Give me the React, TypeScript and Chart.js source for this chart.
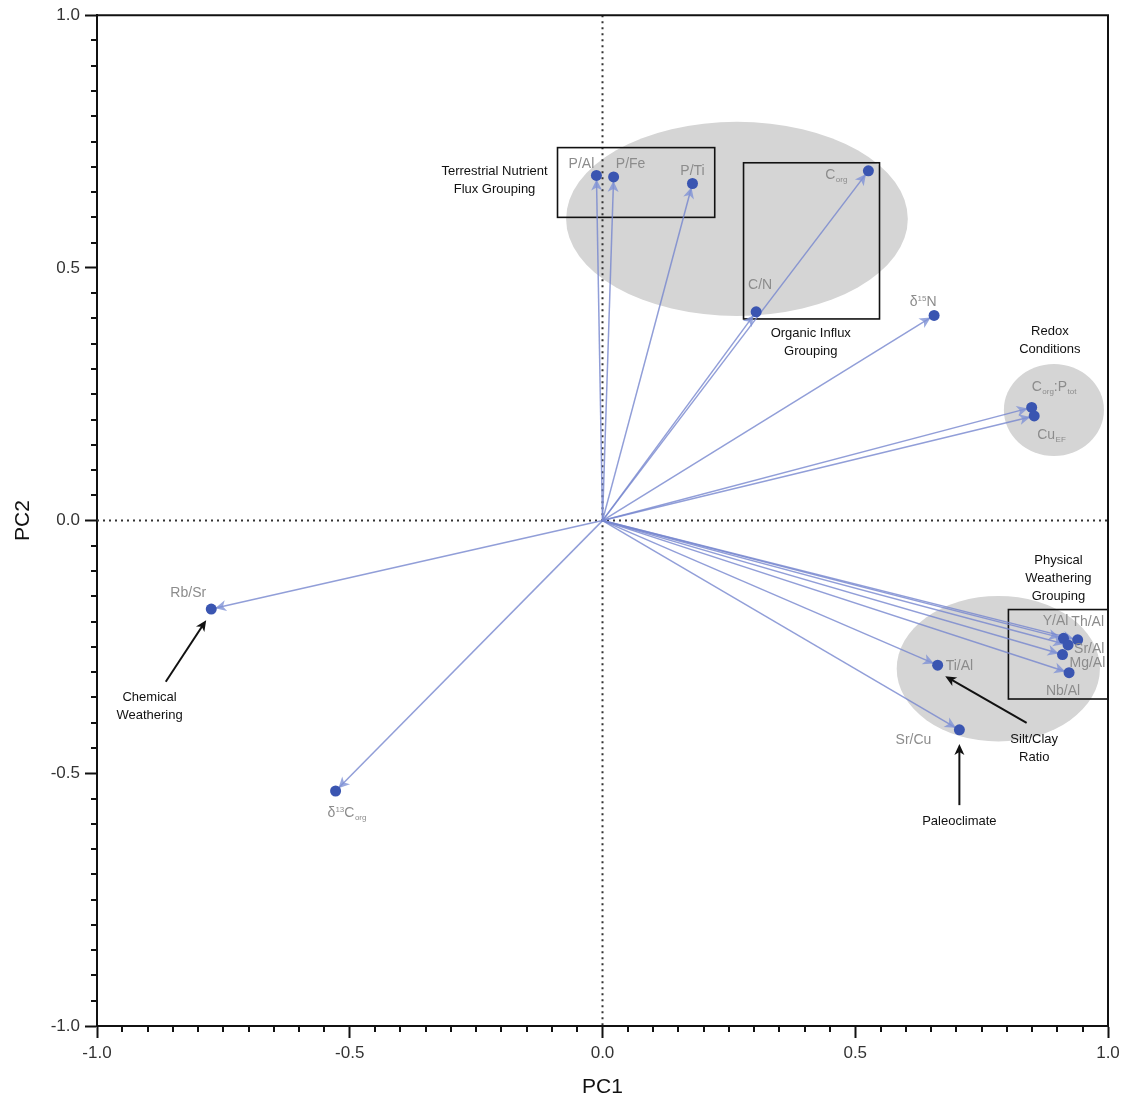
import React, { useEffect, useRef } from 'react';
import { Chart, registerables } from 'chart.js';

Chart.register(...registerables);

// PCA loadings of the geochemical proxies
const variables = [
  'P/Al', 'P/Fe', 'P/Ti', 'Corg', 'C/N', 'δ15N', 'Corg:Ptot', 'CuEF', 'Rb/Sr',
  'δ13Corg', 'Ti/Al', 'Sr/Cu', 'Y/Al', 'Th/Al', 'Sr/Al', 'Mg/Al', 'Nb/Al',
];
const pc1 = [
  -0.012, 0.022, 0.178, 0.526, 0.304, 0.656, 0.849, 0.854, -0.774,
  -0.528, 0.663, 0.706, 0.912, 0.940, 0.921, 0.910, 0.923,
];
const pc2 = [
  0.683, 0.680, 0.667, 0.692, 0.413, 0.406, 0.224, 0.207, -0.175,
  -0.535, -0.286, -0.414, -0.233, -0.236, -0.246, -0.265, -0.301,
];
const tickLabels = ['-1.0', '-0.5', '0.0', '0.5', '1.0'];

// Rich-text pieces for labels that carry sub- or superscripts
type Piece = [string, '' | 'sub' | 'sup'];
const labelPieces: Record<string, Piece[]> = {
  Corg: [['C', ''], ['org', 'sub']],
  'δ15N': [['δ', ''], ['15', 'sup'], ['N', '']],
  'Corg:Ptot': [['C', ''], ['org', 'sub'], [':P', ''], ['tot', 'sub']],
  CuEF: [['Cu', ''], ['EF', 'sub']],
  'δ13Corg': [['δ', ''], ['13', 'sup'], ['C', ''], ['org', 'sub']],
};

// Label placement next to each point: pixel offset and alignment
const labelPlacement: [number, number, CanvasTextAlign][] = [
  [-15, -12, 'center'],
  [17, -14, 'center'],
  [0, -13, 'center'],
  [-21, 3, 'right'],
  [4, -28, 'center'],
  [-11, -14, 'center'],
  [0, -21, 'left'],
  [3, 18, 'left'],
  [-23, -17, 'center'],
  [-8, 21, 'left'],
  [8, 0, 'left'],
  [-28, 9, 'right'],
  [-8, -18, 'center'],
  [10, -19, 'center'],
  [6, 3, 'left'],
  [7, 7, 'left'],
  [-6, 17, 'center'],
];

// Grouping regions (PC1/PC2 units): ellipse centre and radii
const groupEllipses: [number, number, number, number][] = [
  [0.266, 0.597, 0.338, 0.192],
  [0.893, 0.219, 0.099, 0.091],
  [0.783, -0.293, 0.201, 0.144],
];
// Boxes (x0, y0, x1, y1)
const groupBoxes: [number, number, number, number][] = [
  [-0.089, 0.738, 0.222, 0.6],
  [0.279, 0.708, 0.548, 0.399],
  [0.803, -0.176, 1.0, -0.353],
];
// Interpretive notes: first-line centre and the lines
const noteTexts: { x: number; y: number; lines: string[] }[] = [
  { x: -0.2136, y: 0.691, lines: ['Terrestrial Nutrient', 'Flux Grouping'] },
  { x: 0.412, y: 0.37, lines: ['Organic Influx', 'Grouping'] },
  { x: 0.885, y: 0.3735, lines: ['Redox', 'Conditions'] },
  { x: 0.902, y: -0.0795, lines: ['Physical', 'Weathering', 'Grouping'] },
  { x: 0.854, y: -0.432, lines: ['Silt/Clay', 'Ratio'] },
  { x: 0.706, y: -0.596, lines: ['Paleoclimate'] },
  { x: -0.896, y: -0.349, lines: ['Chemical', 'Weathering'] },
];
// Pointer arrows from notes (x0, y0 -> x1, y1)
const noteArrows: [number, number, number, number][] = [
  [-0.864, -0.319, -0.784, -0.197],
  [0.839, -0.4, 0.678, -0.308],
  [0.706, -0.563, 0.706, -0.442],
];

const FONT = '"Liberation Sans", Arial, Helvetica, sans-serif';
const POINT_COLOR = '#3a55b1';
const VECTOR_COLOR = 'rgba(118, 134, 206, 0.8)';
const HEAD_COLOR = 'rgba(128, 146, 214, 0.8)';
const LABEL_COLOR = '#8c8c8c';
const INK = '#111111';

function arrowHead(
  ctx: CanvasRenderingContext2D,
  x0: number, y0: number, x1: number, y1: number,
  back: number, len: number, half: number, notch: number,
) {
  const a = Math.atan2(y1 - y0, x1 - x0);
  const c = Math.cos(a);
  const s = Math.sin(a);
  const tx = x1 - c * back;
  const ty = y1 - s * back;
  const bx = tx - c * len;
  const by = ty - s * len;
  ctx.beginPath();
  ctx.moveTo(tx, ty);
  ctx.lineTo(bx + s * half, by - c * half);
  ctx.lineTo(bx + c * notch, by + s * notch);
  ctx.lineTo(bx - s * half, by + c * half);
  ctx.closePath();
  ctx.fill();
}

function drawRich(
  ctx: CanvasRenderingContext2D, pieces: Piece[], x: number, y: number, align: CanvasTextAlign,
) {
  const mainFont = `14px ${FONT}`;
  const smallFont = `8px ${FONT}`;
  let total = 0;
  for (const [t, m] of pieces) {
    ctx.font = m ? smallFont : mainFont;
    total += ctx.measureText(t).width + (m === 'sub' ? 0.5 : 0);
  }
  let cx = align === 'center' ? x - total / 2 : align === 'right' ? x - total : x;
  const base = y + 5;
  ctx.textAlign = 'left';
  ctx.textBaseline = 'alphabetic';
  for (const [t, m] of pieces) {
    ctx.font = m ? smallFont : mainFont;
    const by = m === 'sub' ? base + 3 : m === 'sup' ? base - 5 : base;
    ctx.fillText(t, cx + (m === 'sub' ? 0.5 : 0), by);
    cx += ctx.measureText(t).width + (m === 'sub' ? 0.5 : 0);
  }
}

const biplotPlugin = {
  id: 'biplot',
  beforeDatasetsDraw(chart: any) {
    const { ctx, chartArea, scales } = chart;
    const X = (v: number) => scales.x.getPixelForValue(v);
    const Y = (v: number) => scales.y.getPixelForValue(v);
    ctx.save();

    // grouping ellipses
    ctx.fillStyle = '#d5d5d5';
    for (const [cx, cy, rx, ry] of groupEllipses) {
      ctx.beginPath();
      ctx.ellipse(X(cx), Y(cy), Math.abs(X(cx + rx) - X(cx)), Math.abs(Y(cy + ry) - Y(cy)), 0, 0, Math.PI * 2);
      ctx.fill();
    }

    // dotted zero lines
    ctx.strokeStyle = '#333333';
    ctx.lineWidth = 2;
    ctx.setLineDash([2, 4]);
    ctx.beginPath();
    ctx.moveTo(X(0), chartArea.top);
    ctx.lineTo(X(0), chartArea.bottom);
    ctx.moveTo(chartArea.left, Y(0));
    ctx.lineTo(chartArea.right, Y(0));
    ctx.stroke();
    ctx.setLineDash([]);

    // boxes
    ctx.strokeStyle = INK;
    ctx.lineWidth = 1.6;
    for (const [x0, y0, x1, y1] of groupBoxes) {
      ctx.strokeRect(X(x0), Y(y0), X(x1) - X(x0), Y(y1) - Y(y0));
    }

    // loading vectors
    const ox = X(0);
    const oy = Y(0);
    ctx.strokeStyle = VECTOR_COLOR;
    ctx.lineWidth = 1.5;
    ctx.fillStyle = HEAD_COLOR;
    for (let i = 0; i < variables.length; i++) {
      const tx = X(pc1[i]);
      const ty = Y(pc2[i]);
      ctx.beginPath();
      ctx.moveTo(ox, oy);
      ctx.lineTo(tx, ty);
      ctx.stroke();
      arrowHead(ctx, ox, oy, tx, ty, 4, 11, 5.5, 3);
    }
    ctx.restore();
  },
  afterDatasetsDraw(chart: any) {
    const { ctx, chartArea, scales } = chart;
    const X = (v: number) => scales.x.getPixelForValue(v);
    const Y = (v: number) => scales.y.getPixelForValue(v);
    ctx.save();

    // variable labels
    ctx.fillStyle = LABEL_COLOR;
    for (let i = 0; i < variables.length; i++) {
      const [dx, dy, align] = labelPlacement[i];
      const pieces = labelPieces[variables[i]] || [[variables[i], '']];
      drawRich(ctx, pieces as Piece[], X(pc1[i]) + dx, Y(pc2[i]) + dy, align);
    }

    // notes
    ctx.fillStyle = INK;
    ctx.font = `13px ${FONT}`;
    ctx.textAlign = 'center';
    ctx.textBaseline = 'middle';
    for (const n of noteTexts) {
      n.lines.forEach((line, k) => ctx.fillText(line, X(n.x), Y(n.y) + k * 18));
    }

    // note pointers
    ctx.strokeStyle = INK;
    ctx.fillStyle = INK;
    ctx.lineWidth = 2;
    for (const [x0, y0, x1, y1] of noteArrows) {
      const a = Math.atan2(Y(y1) - Y(y0), X(x1) - X(x0));
      ctx.beginPath();
      ctx.moveTo(X(x0), Y(y0));
      ctx.lineTo(X(x1) - Math.cos(a) * 7, Y(y1) - Math.sin(a) * 7);
      ctx.stroke();
      arrowHead(ctx, X(x0), Y(y0), X(x1), Y(y1), 0, 11, 5, 3);
    }

    // minor ticks every 0.05
    ctx.strokeStyle = INK;
    ctx.lineWidth = 2;
    ctx.beginPath();
    for (let k = -20; k <= 20; k++) {
      if (k % 10 === 0) continue;
      const v = k * 0.05;
      const xp = Math.round(X(v));
      ctx.moveTo(xp, chartArea.bottom);
      ctx.lineTo(xp, chartArea.bottom + 6);
      const yp = Math.round(Y(v));
      ctx.moveTo(chartArea.left, yp);
      ctx.lineTo(chartArea.left - 6, yp);
    }
    ctx.stroke();

    // top and right frame
    ctx.beginPath();
    ctx.moveTo(chartArea.left, chartArea.top);
    ctx.lineTo(chartArea.right, chartArea.top);
    ctx.lineTo(chartArea.right, chartArea.bottom);
    ctx.stroke();

    // axis titles
    ctx.fillStyle = INK;
    ctx.font = `21px ${FONT}`;
    ctx.textAlign = 'center';
    ctx.textBaseline = 'middle';
    ctx.fillText('PC1', (chartArea.left + chartArea.right) / 2, chartArea.bottom + 61);
    ctx.save();
    ctx.translate(23, (chartArea.top + chartArea.bottom) / 2);
    ctx.rotate(-Math.PI / 2);
    ctx.fillText('PC2', 0, 0);
    ctx.restore();

    ctx.restore();
  },
};

function axisOptions(fit: (s: any) => void) {
  return {
    type: 'linear' as const,
    min: -1,
    max: 1,
    afterFit: fit,
    afterBuildTicks: (s: any) => {
      s.ticks = tickLabels.map((t) => ({ value: parseFloat(t) }));
    },
    ticks: {
      callback: (v: any) => tickLabels.find((t) => parseFloat(t) === Number(v)) ?? '',
      font: { size: 17, family: FONT },
      color: '#333333',
      padding: 5,
      maxRotation: 0,
      autoSkip: false,
    },
    grid: {
      drawOnChartArea: false,
      drawTicks: true,
      tickLength: 12,
      tickWidth: 2,
      tickColor: INK,
    },
    border: { display: true, color: INK, width: 2 },
  };
}

export default function App() {
  const canvasRef = useRef<HTMLCanvasElement | null>(null);

  useEffect(() => {
    document.body.style.margin = '0';
    const canvas = canvasRef.current;
    if (!canvas) return;
    const chart = new Chart(canvas, {
      type: 'scatter',
      data: {
        datasets: [
          {
            label: 'Loadings',
            data: pc1.map((x, i) => ({ x, y: pc2[i] })),
            pointRadius: 5.5,
            pointHoverRadius: 5.5,
            backgroundColor: POINT_COLOR,
            borderWidth: 0,
          },
        ],
      },
      options: {
        responsive: false,
        animation: false,
        devicePixelRatio: 1,
        layout: { padding: { top: 15, right: 24, left: 0, bottom: 0 } },
        plugins: {
          legend: { display: false },
          tooltip: { enabled: false },
        },
        scales: {
          x: axisOptions((s: any) => { s.height = 77; }),
          y: axisOptions((s: any) => { s.width = 97; }),
        },
      },
      plugins: [biplotPlugin],
    });
    return () => chart.destroy();
  }, []);

  return (
    <div style={{ width: 1132, height: 1103, background: '#ffffff' }}>
      <canvas ref={canvasRef} width={1132} height={1103} style={{ display: 'block' }} />
    </div>
  );
}
